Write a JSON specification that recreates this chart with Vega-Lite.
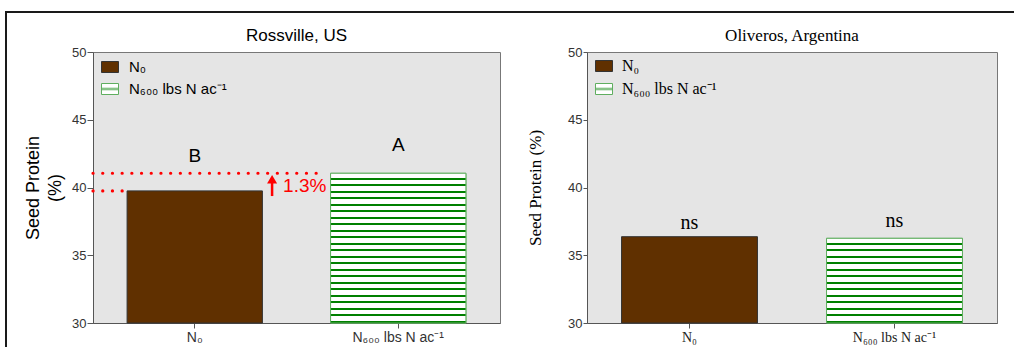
{
  "$schema": "https://vega.github.io/schema/vega-lite/v6.json",
  "padding": {"left": 5, "top": 11, "right": 0, "bottom": 0},
  "background": "white",
  "datasets": {
    "ross": [
      {"treatment": "N₀", "protein": 39.75, "letter": "B", "letter_y": 41.88},
      {"treatment": "N₆₀₀ lbs N ac⁻¹", "protein": 41.05, "letter": "A", "letter_y": 42.72}
    ],
    "oliv": [
      {"treatment": "N₀", "protein": 36.37, "letter": "ns", "letter_y": 36.94},
      {"treatment": "N₆₀₀ lbs N ac⁻¹", "protein": 36.25, "letter": "ns", "letter_y": 37.06}
    ],
    "ross_lines": [
      {"x0": 0, "x1": 1.13, "y": 41.05},
      {"x0": 0, "x1": 0.155, "y": 39.75}
    ],
    "ross_arrow": [
      {"x": 0.88, "y0": 39.37, "y1": 40.55, "label": "1.3%", "label_x": 0.934, "label_y": 39.69}
    ],
    "blank": [{}]
  },
  "spacing": 0,
  "hconcat": [
    {
      "data": {"name": "blank"},
      "width": 2,
      "height": 336,
      "view": {"fill": "#1a1a1a", "stroke": null},
      "mark": {"type": "rect", "color": "#1a1a1a"},
      "encoding": {}
    },
    {
      "spacing": 0,
      "vconcat": [
        {
          "data": {"name": "blank"},
          "width": 1007,
          "height": 2,
          "view": {"fill": "#1a1a1a", "stroke": null},
          "mark": {"type": "rect", "color": "#1a1a1a"},
          "encoding": {}
        },
        {
          "spacing": 16,
          "hconcat": [
            {
              "data": {"name": "blank"},
              "width": 1,
              "height": 1,
              "view": {"fill": null, "stroke": null},
              "mark": {"type": "rect", "opacity": 0},
              "encoding": {}
            },
            {
              "spacing": 25,
              "resolve": {"scale": {"stroke": "independent", "fill": "independent", "shape": "independent"}, "legend": {"stroke": "independent", "fill": "independent", "shape": "independent"}},
              "hconcat": [
                {
                  "width": 407,
                  "height": 271,
                  "title": {"text": ["", "Rossville, US"], "lineHeight": 13, "font": "Liberation Sans", "fontSize": 17, "fontWeight": "normal", "color": "#000000", "offset": 1},
                  "view": {"fill": "#e5e5e5", "stroke": "#777777", "strokeWidth": 1},
                  "resolve": {"scale": {"x": "independent"}},
                  "layer": [
                    {
                      "data": {"name": "ross"},
                      "layer": [
                        {
                          "mark": {"type": "bar", "strokeWidth": 1},
                          "encoding": {
                            "x": {"field": "treatment", "type": "nominal", "sort": null,
                              "scale": {"paddingInner": 0.335, "paddingOuter": 0.1675},
                              "axis": {"labelAngle": 0, "title": null, "labelFont": "Liberation Sans", "labelFontSize": 14, "labelColor": "#333333", "tickColor": "#555555", "domainColor": "#555555", "tickSize": 5, "labelPadding": 2}},
                            "y": {"field": "protein", "type": "quantitative",
                              "scale": {"domain": [30, 50], "nice": false, "zero": false},
                              "axis": {"values": [30, 32.5, 35, 37.5, 40, 42.5, 45, 47.5, 50], "labelExpr": "datum.value % 5 === 0 ? datum.label : ''",
                                "tickSize": {"condition": {"test": "datum.value % 5 !== 0", "value": 3}, "value": 6},
                                "grid": false, "labelFont": "Liberation Sans", "labelFontSize": 13, "labelColor": "#333333", "labelPadding": 1,
                                "tickColor": "#555555", "domainColor": "#555555",
                                "title": ["Seed Protein", "(%)"], "titleFont": "Liberation Sans", "titleFontSize": 18, "titleFontWeight": "normal", "titleColor": "#000000", "titleLineHeight": 22, "titlePadding": 7}},
                            "y2": {"datum": 30},
                            "stroke": {"field": "treatment", "type": "nominal", "sort": null,
                              "scale": {"domain": ["N₀", "N₆₀₀ lbs N ac⁻¹"], "range": ["#333333", "#5fae5f"]},
                              "legend": {"orient": "none", "legendX": 8, "legendY": 6, "title": null, "padding": 0,
                                "symbolSize": 289, "symbolStrokeWidth": 1, "symbolOpacity": 1,
                                "labelFont": "Liberation Sans", "labelFontSize": 15, "labelColor": "#000000", "labelOffset": 10, "rowPadding": 5}},
                            "fill": {"field": "treatment", "type": "nominal", "sort": null,
                              "scale": {"domain": ["N₀", "N₆₀₀ lbs N ac⁻¹"], "range": ["#603000", "#ffffff"]},
                              "legend": {"orient": "none", "legendX": 8, "legendY": 6, "title": null, "padding": 0,
                                "symbolSize": 289, "symbolStrokeWidth": 1, "symbolOpacity": 1,
                                "labelFont": "Liberation Sans", "labelFontSize": 15, "labelColor": "#000000", "labelOffset": 10, "rowPadding": 5}}
                          }
                        },
                        {
                          "mark": {"type": "point", "filled": true, "size": 0, "opacity": 1, "strokeWidth": 1},
                          "encoding": {
                            "x": {"field": "treatment", "type": "nominal", "sort": null, "scale": {"paddingInner": 0.335, "paddingOuter": 0.1675}},
                            "y": {"field": "protein", "type": "quantitative", "scale": {"domain": [30, 50], "nice": false, "zero": false}},
                            "shape": {"field": "treatment", "type": "nominal", "sort": null,
                              "scale": {"domain": ["N₀", "N₆₀₀ lbs N ac⁻¹"], "range": ["M-1,-0.647L1,-0.647L1,0.647L-1,0.647Z", "M-1,-0.647L1,-0.647L1,0.647L-1,0.647Z M-1,-0.09L1,-0.09L1,0.09L-1,0.09Z"]},
                              "legend": {"orient": "none", "legendX": 8, "legendY": 6, "title": null, "padding": 0,
                                "symbolSize": 289, "symbolStrokeWidth": 1, "symbolOpacity": 1,
                                "labelFont": "Liberation Sans", "labelFontSize": 15, "labelColor": "#000000", "labelOffset": 10, "rowPadding": 5}},
                            "fill": {"field": "treatment", "type": "nominal", "sort": null,
                              "scale": {"domain": ["N₀", "N₆₀₀ lbs N ac⁻¹"], "range": ["#603000", "#ffffff"]}},
                            "stroke": {"field": "treatment", "type": "nominal", "sort": null,
                              "scale": {"domain": ["N₀", "N₆₀₀ lbs N ac⁻¹"], "range": ["#333333", "#5fae5f"]}}
                          }
                        },
                        {
                          "transform": [{"filter": "datum.treatment !== 'N₀'"}],
                          "mark": {"type": "bar", "strokeWidth": 1, "stroke": "#5fae5f",
                            "fill": {"gradient": "linear", "x1": 0, "y1": 0, "x2": 0, "y2": 1, "stops": [
                              {"offset": 0, "color": "#ffffff"}, {"offset": 0.0287, "color": "#ffffff"}, {"offset": 0.0287, "color": "#008000"}, {"offset": 0.0435, "color": "#008000"},
                              {"offset": 0.0435, "color": "#ffffff"}, {"offset": 0.0722, "color": "#ffffff"}, {"offset": 0.0722, "color": "#008000"}, {"offset": 0.087, "color": "#008000"},
                              {"offset": 0.087, "color": "#ffffff"}, {"offset": 0.1157, "color": "#ffffff"}, {"offset": 0.1157, "color": "#008000"}, {"offset": 0.1304, "color": "#008000"},
                              {"offset": 0.1304, "color": "#ffffff"}, {"offset": 0.1591, "color": "#ffffff"}, {"offset": 0.1591, "color": "#008000"}, {"offset": 0.1739, "color": "#008000"},
                              {"offset": 0.1739, "color": "#ffffff"}, {"offset": 0.2026, "color": "#ffffff"}, {"offset": 0.2026, "color": "#008000"}, {"offset": 0.2174, "color": "#008000"},
                              {"offset": 0.2174, "color": "#ffffff"}, {"offset": 0.2461, "color": "#ffffff"}, {"offset": 0.2461, "color": "#008000"}, {"offset": 0.2609, "color": "#008000"},
                              {"offset": 0.2609, "color": "#ffffff"}, {"offset": 0.2896, "color": "#ffffff"}, {"offset": 0.2896, "color": "#008000"}, {"offset": 0.3043, "color": "#008000"},
                              {"offset": 0.3043, "color": "#ffffff"}, {"offset": 0.333, "color": "#ffffff"}, {"offset": 0.333, "color": "#008000"}, {"offset": 0.3478, "color": "#008000"},
                              {"offset": 0.3478, "color": "#ffffff"}, {"offset": 0.3765, "color": "#ffffff"}, {"offset": 0.3765, "color": "#008000"}, {"offset": 0.3913, "color": "#008000"},
                              {"offset": 0.3913, "color": "#ffffff"}, {"offset": 0.42, "color": "#ffffff"}, {"offset": 0.42, "color": "#008000"}, {"offset": 0.4348, "color": "#008000"},
                              {"offset": 0.4348, "color": "#ffffff"}, {"offset": 0.4635, "color": "#ffffff"}, {"offset": 0.4635, "color": "#008000"}, {"offset": 0.4783, "color": "#008000"},
                              {"offset": 0.4783, "color": "#ffffff"}, {"offset": 0.507, "color": "#ffffff"}, {"offset": 0.507, "color": "#008000"}, {"offset": 0.5217, "color": "#008000"},
                              {"offset": 0.5217, "color": "#ffffff"}, {"offset": 0.5504, "color": "#ffffff"}, {"offset": 0.5504, "color": "#008000"}, {"offset": 0.5652, "color": "#008000"},
                              {"offset": 0.5652, "color": "#ffffff"}, {"offset": 0.5939, "color": "#ffffff"}, {"offset": 0.5939, "color": "#008000"}, {"offset": 0.6087, "color": "#008000"},
                              {"offset": 0.6087, "color": "#ffffff"}, {"offset": 0.6374, "color": "#ffffff"}, {"offset": 0.6374, "color": "#008000"}, {"offset": 0.6522, "color": "#008000"},
                              {"offset": 0.6522, "color": "#ffffff"}, {"offset": 0.6809, "color": "#ffffff"}, {"offset": 0.6809, "color": "#008000"}, {"offset": 0.6957, "color": "#008000"},
                              {"offset": 0.6957, "color": "#ffffff"}, {"offset": 0.7243, "color": "#ffffff"}, {"offset": 0.7243, "color": "#008000"}, {"offset": 0.7391, "color": "#008000"},
                              {"offset": 0.7391, "color": "#ffffff"}, {"offset": 0.7678, "color": "#ffffff"}, {"offset": 0.7678, "color": "#008000"}, {"offset": 0.7826, "color": "#008000"},
                              {"offset": 0.7826, "color": "#ffffff"}, {"offset": 0.8113, "color": "#ffffff"}, {"offset": 0.8113, "color": "#008000"}, {"offset": 0.8261, "color": "#008000"},
                              {"offset": 0.8261, "color": "#ffffff"}, {"offset": 0.8548, "color": "#ffffff"}, {"offset": 0.8548, "color": "#008000"}, {"offset": 0.8696, "color": "#008000"},
                              {"offset": 0.8696, "color": "#ffffff"}, {"offset": 0.8983, "color": "#ffffff"}, {"offset": 0.8983, "color": "#008000"}, {"offset": 0.913, "color": "#008000"},
                              {"offset": 0.913, "color": "#ffffff"}, {"offset": 0.9417, "color": "#ffffff"}, {"offset": 0.9417, "color": "#008000"}, {"offset": 0.9565, "color": "#008000"},
                              {"offset": 0.9565, "color": "#ffffff"}, {"offset": 0.9852, "color": "#ffffff"}, {"offset": 0.9852, "color": "#008000"}, {"offset": 1, "color": "#008000"}
                            ]}},
                          "encoding": {
                            "x": {"field": "treatment", "type": "nominal", "sort": null, "scale": {"paddingInner": 0.335, "paddingOuter": 0.1675}},
                            "y": {"field": "protein", "type": "quantitative", "scale": {"domain": [30, 50], "nice": false, "zero": false}},
                            "y2": {"datum": 30}
                          }
                        },
                        {
                          "mark": {"type": "text", "font": "Liberation Sans", "fontSize": 19, "baseline": "alphabetic", "color": "#000000"},
                          "encoding": {
                            "x": {"field": "treatment", "type": "nominal", "sort": null, "scale": {"paddingInner": 0.335, "paddingOuter": 0.1675}},
                            "y": {"field": "letter_y", "type": "quantitative", "scale": {"domain": [30, 50], "nice": false, "zero": false}},
                            "text": {"field": "letter"}
                          }
                        }
                      ]
                    },
                    {
                      "layer": [
                        {
                          "data": {"name": "ross_lines"},
                          "mark": {"type": "rule", "color": "#ff0000", "strokeWidth": 3.2, "strokeDash": [0.1, 9.6], "strokeCap": "round"},
                          "encoding": {
                            "x": {"field": "x0", "type": "quantitative", "scale": {"domain": [0, 2], "nice": false, "zero": false}, "axis": null},
                            "x2": {"field": "x1"},
                            "y": {"field": "y", "type": "quantitative", "scale": {"domain": [30, 50], "nice": false, "zero": false}}
                          }
                        },
                        {
                          "data": {"name": "ross_arrow"},
                          "mark": {"type": "rule", "color": "#ff0000", "strokeWidth": 2.5},
                          "encoding": {
                            "x": {"field": "x", "type": "quantitative", "scale": {"domain": [0, 2], "nice": false, "zero": false}, "axis": null},
                            "y": {"field": "y0", "type": "quantitative", "scale": {"domain": [30, 50], "nice": false, "zero": false}},
                            "y2": {"field": "y1"}
                          }
                        },
                        {
                          "data": {"name": "ross_arrow"},
                          "mark": {"type": "point", "filled": true, "color": "#ff0000", "opacity": 1, "shape": "M0,-1L1,0.7L-1,0.7Z", "size": 100},
                          "encoding": {
                            "x": {"field": "x", "type": "quantitative", "scale": {"domain": [0, 2], "nice": false, "zero": false}, "axis": null},
                            "y": {"field": "y1", "type": "quantitative", "scale": {"domain": [30, 50], "nice": false, "zero": false}}
                          }
                        },
                        {
                          "data": {"name": "ross_arrow"},
                          "mark": {"type": "text", "font": "Liberation Sans", "fontSize": 19, "color": "#ff0000", "align": "left", "baseline": "alphabetic"},
                          "encoding": {
                            "x": {"field": "label_x", "type": "quantitative", "scale": {"domain": [0, 2], "nice": false, "zero": false}, "axis": null},
                            "y": {"field": "label_y", "type": "quantitative", "scale": {"domain": [30, 50], "nice": false, "zero": false}},
                            "text": {"field": "label"}
                          }
                        }
                      ]
                    }
                  ]
                },
                {
                  "width": 410,
                  "height": 271,
                  "title": {"text": ["", "Oliveros, Argentina"], "lineHeight": 13, "font": "Liberation Serif", "fontSize": 17, "fontWeight": "normal", "color": "#000000", "offset": 1},
                  "view": {"fill": "#e5e5e5", "stroke": "#777777", "strokeWidth": 1},
                  "data": {"name": "oliv"},
                  "layer": [
                    {
                      "mark": {"type": "bar", "strokeWidth": 1},
                      "encoding": {
                        "x": {"field": "treatment", "type": "nominal", "sort": null,
                          "scale": {"paddingInner": 0.337, "paddingOuter": 0.1685},
                          "axis": {"labelAngle": 0, "title": null, "labelFont": "Liberation Serif", "labelFontSize": 14, "labelColor": "#222222", "tickColor": "#555555", "domainColor": "#555555", "tickSize": 5, "labelPadding": 2}},
                        "y": {"field": "protein", "type": "quantitative",
                          "scale": {"domain": [30, 50], "nice": false, "zero": false},
                          "axis": {"values": [30, 32.5, 35, 37.5, 40, 42.5, 45, 47.5, 50], "labelExpr": "datum.value % 5 === 0 ? datum.label : ''",
                            "tickSize": {"condition": {"test": "datum.value % 5 !== 0", "value": 2}, "value": 4},
                            "grid": false, "labelFont": "Liberation Sans", "labelFontSize": 13, "labelColor": "#333333", "labelPadding": 1,
                            "tickColor": "#555555", "domainColor": "#555555",
                            "title": "Seed Protein (%)", "titleFont": "Liberation Serif", "titleFontSize": 17, "titleFontWeight": "normal", "titleColor": "#000000", "titlePadding": 23}},
                        "y2": {"datum": 30},
                        "stroke": {"field": "treatment", "type": "nominal", "sort": null,
                          "scale": {"domain": ["N₀", "N₆₀₀ lbs N ac⁻¹"], "range": ["#333333", "#5fae5f"]},
                          "legend": {"orient": "none", "legendX": 8, "legendY": 5, "title": null, "padding": 0,
                            "symbolSize": 289, "symbolStrokeWidth": 1, "symbolOpacity": 1,
                            "labelFont": "Liberation Serif", "labelFontSize": 16, "labelColor": "#000000", "labelOffset": 9, "rowPadding": 6}},
                        "fill": {"field": "treatment", "type": "nominal", "sort": null,
                          "scale": {"domain": ["N₀", "N₆₀₀ lbs N ac⁻¹"], "range": ["#603000", "#ffffff"]},
                          "legend": {"orient": "none", "legendX": 8, "legendY": 5, "title": null, "padding": 0,
                            "symbolSize": 289, "symbolStrokeWidth": 1, "symbolOpacity": 1,
                            "labelFont": "Liberation Serif", "labelFontSize": 16, "labelColor": "#000000", "labelOffset": 9, "rowPadding": 6}}
                      }
                    },
                    {
                      "mark": {"type": "point", "filled": true, "size": 0, "opacity": 1, "strokeWidth": 1},
                      "encoding": {
                        "x": {"field": "treatment", "type": "nominal", "sort": null, "scale": {"paddingInner": 0.337, "paddingOuter": 0.1685}},
                        "y": {"field": "protein", "type": "quantitative", "scale": {"domain": [30, 50], "nice": false, "zero": false}},
                        "shape": {"field": "treatment", "type": "nominal", "sort": null,
                          "scale": {"domain": ["N₀", "N₆₀₀ lbs N ac⁻¹"], "range": ["M-1,-0.647L1,-0.647L1,0.647L-1,0.647Z", "M-1,-0.647L1,-0.647L1,0.647L-1,0.647Z M-1,-0.09L1,-0.09L1,0.09L-1,0.09Z"]},
                          "legend": {"orient": "none", "legendX": 8, "legendY": 5, "title": null, "padding": 0,
                            "symbolSize": 289, "symbolStrokeWidth": 1, "symbolOpacity": 1,
                            "labelFont": "Liberation Serif", "labelFontSize": 16, "labelColor": "#000000", "labelOffset": 9, "rowPadding": 6}},
                        "fill": {"field": "treatment", "type": "nominal", "sort": null,
                          "scale": {"domain": ["N₀", "N₆₀₀ lbs N ac⁻¹"], "range": ["#603000", "#ffffff"]}},
                        "stroke": {"field": "treatment", "type": "nominal", "sort": null,
                          "scale": {"domain": ["N₀", "N₆₀₀ lbs N ac⁻¹"], "range": ["#333333", "#5fae5f"]}}
                      }
                    },
                    {
                      "transform": [{"filter": "datum.treatment !== 'N₀'"}],
                      "mark": {"type": "bar", "strokeWidth": 1, "stroke": "#5fae5f",
                        "fill": {"gradient": "linear", "x1": 0, "y1": 0, "x2": 0, "y2": 1, "stops": [
                          {"offset": 0, "color": "#ffffff"}, {"offset": 0.0508, "color": "#ffffff"}, {"offset": 0.0508, "color": "#008000"}, {"offset": 0.0769, "color": "#008000"},
                          {"offset": 0.0769, "color": "#ffffff"}, {"offset": 0.1277, "color": "#ffffff"}, {"offset": 0.1277, "color": "#008000"}, {"offset": 0.1538, "color": "#008000"},
                          {"offset": 0.1538, "color": "#ffffff"}, {"offset": 0.2046, "color": "#ffffff"}, {"offset": 0.2046, "color": "#008000"}, {"offset": 0.2308, "color": "#008000"},
                          {"offset": 0.2308, "color": "#ffffff"}, {"offset": 0.2815, "color": "#ffffff"}, {"offset": 0.2815, "color": "#008000"}, {"offset": 0.3077, "color": "#008000"},
                          {"offset": 0.3077, "color": "#ffffff"}, {"offset": 0.3585, "color": "#ffffff"}, {"offset": 0.3585, "color": "#008000"}, {"offset": 0.3846, "color": "#008000"},
                          {"offset": 0.3846, "color": "#ffffff"}, {"offset": 0.4354, "color": "#ffffff"}, {"offset": 0.4354, "color": "#008000"}, {"offset": 0.4615, "color": "#008000"},
                          {"offset": 0.4615, "color": "#ffffff"}, {"offset": 0.5123, "color": "#ffffff"}, {"offset": 0.5123, "color": "#008000"}, {"offset": 0.5385, "color": "#008000"},
                          {"offset": 0.5385, "color": "#ffffff"}, {"offset": 0.5892, "color": "#ffffff"}, {"offset": 0.5892, "color": "#008000"}, {"offset": 0.6154, "color": "#008000"},
                          {"offset": 0.6154, "color": "#ffffff"}, {"offset": 0.6662, "color": "#ffffff"}, {"offset": 0.6662, "color": "#008000"}, {"offset": 0.6923, "color": "#008000"},
                          {"offset": 0.6923, "color": "#ffffff"}, {"offset": 0.7431, "color": "#ffffff"}, {"offset": 0.7431, "color": "#008000"}, {"offset": 0.7692, "color": "#008000"},
                          {"offset": 0.7692, "color": "#ffffff"}, {"offset": 0.82, "color": "#ffffff"}, {"offset": 0.82, "color": "#008000"}, {"offset": 0.8462, "color": "#008000"},
                          {"offset": 0.8462, "color": "#ffffff"}, {"offset": 0.8969, "color": "#ffffff"}, {"offset": 0.8969, "color": "#008000"}, {"offset": 0.9231, "color": "#008000"},
                          {"offset": 0.9231, "color": "#ffffff"}, {"offset": 0.9738, "color": "#ffffff"}, {"offset": 0.9738, "color": "#008000"}, {"offset": 1, "color": "#008000"}
                        ]}},
                      "encoding": {
                        "x": {"field": "treatment", "type": "nominal", "sort": null, "scale": {"paddingInner": 0.337, "paddingOuter": 0.1685}},
                        "y": {"field": "protein", "type": "quantitative", "scale": {"domain": [30, 50], "nice": false, "zero": false}},
                        "y2": {"datum": 30}
                      }
                    },
                    {
                      "mark": {"type": "text", "font": "Liberation Serif", "fontSize": 20, "baseline": "alphabetic", "color": "#000000"},
                      "encoding": {
                        "x": {"field": "treatment", "type": "nominal", "sort": null, "scale": {"paddingInner": 0.337, "paddingOuter": 0.1685}},
                        "y": {"field": "letter_y", "type": "quantitative", "scale": {"domain": [30, 50], "nice": false, "zero": false}},
                        "text": {"field": "letter"}
                      }
                    }
                  ]
                }
              ]
            }
          ]
        }
      ]
    }
  ],
  "config": {
    "axis": {"grid": false}
  }
}
